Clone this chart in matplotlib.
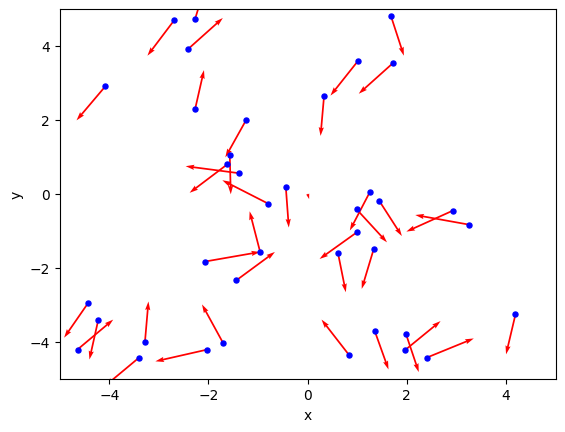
import matplotlib
matplotlib.use("Agg")
import matplotlib.pyplot as plt

# ------------------------------------------------------------------
# Data: point positions and arrow vectors
# ------------------------------------------------------------------
x = [-2.69, -4.08, -2.41, -2.27, -2.27, -1.24, -1.57, -1.62, -1.38, -0.80,
     -0.44, -0.96, -2.07, -1.44, -1.71, -2.02, -3.28, -3.40, -4.42, -4.22,
     -4.64, 1.68, 1.01, 1.72, 0.33, 1.25, 1.44, 0.99, 0.99, 0.61,
     1.33, 2.93, 3.25, 0.83, 1.35, 1.98, 1.96, 2.40, 4.19, 0.0]
y = [4.70, 2.91, 3.92, 4.73, 2.29, 2.00, 1.04, 0.80, 0.56, -0.26,
     0.18, -1.56, -1.83, -2.34, -4.02, -4.21, -4.00, -4.43, -2.94, -3.40,
     -4.21, 4.81, 3.59, 3.54, 2.64, 0.04, -0.18, -0.42, -1.04, -1.59,
     -1.50, -0.45, -0.83, -4.35, -3.70, -3.78, -4.23, -4.43, -3.26, 0.0]
u = [-0.54, -0.58, 0.70, 0.22, 0.18, -0.42, 0.02, -0.76, -1.08, -0.92,
     0.06, -0.21, 1.11, 0.78, -0.42, -1.05, 0.07, -0.68, -0.49, -0.18,
     0.72, 0.26, -0.55, -0.69, -0.07, -0.40, 0.46, 0.61, -0.75, 0.16,
     -0.24, -0.94, -1.08, -0.55, 0.28, 0.26, 0.72, 0.95, -0.19, 0.03]
v = [-0.96, -0.92, 0.84, 0.97, 1.06, -1.01, -1.05, -0.77, 0.19, 0.63,
     -1.09, 1.09, 0.26, 0.77, 1.03, -0.32, 1.09, -0.76, -0.95, -1.08,
     0.81, -1.07, -0.93, -0.83, -1.07, -1.03, -0.96, -0.89, -0.72, -1.07,
     -1.07, -0.57, 0.26, 0.95, -1.05, -1.04, 0.79, 0.52, -1.08, -0.14]

# ------------------------------------------------------------------
# Plot
# ------------------------------------------------------------------
fig, ax = plt.subplots(figsize=(6.4, 4.8), dpi=100)

ax.quiver(x, y, u, v, angles="xy", scale_units="xy", scale=1,
          color="red", width=0.0035)
ax.scatter(x[:-1], y[:-1], s=13, color="blue", zorder=3)

ax.set_xlim(-5, 5)
ax.set_ylim(-5, 5)
ax.set_xlabel("x")
ax.set_ylabel("y")

fig.savefig("out.png", bbox_inches="tight")
